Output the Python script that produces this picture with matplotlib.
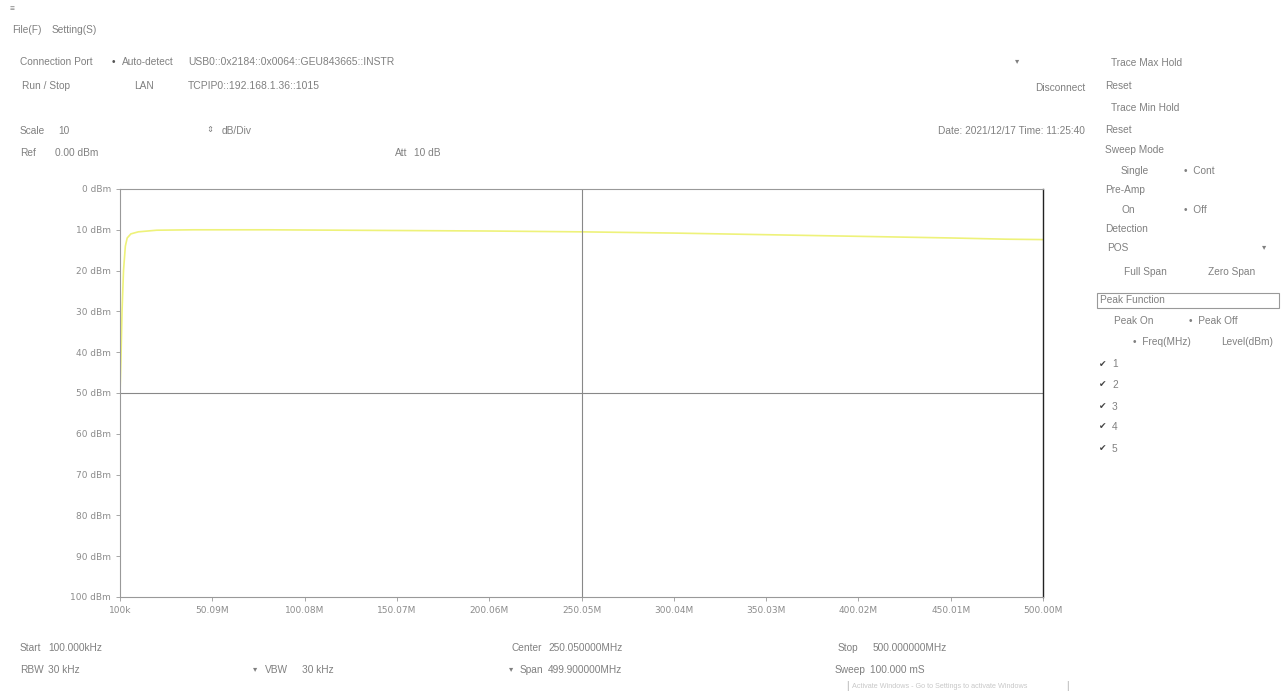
import matplotlib.pyplot as plt
import numpy as np

# trace data (frequency in MHz, level in dBm)
freq_mhz = [0.1, 0.6, 1.2, 2.0, 3.0, 4.0, 6.0, 10.0, 20.0, 40.0, 80.0, 120.0,
            160.0, 200.0, 250.0, 300.0, 350.0, 400.0, 450.0, 480.0, 500.0]
level_dbm = [-50.0, -42.0, -30.0, -20.0, -14.0, -12.0, -11.0, -10.5, -10.1, -10.0, -10.0, -10.1,
             -10.2, -10.3, -10.5, -10.8, -11.2, -11.6, -12.0, -12.3, -12.4]

x_ticks = [0.1, 50.09, 100.08, 150.07, 200.06, 250.05, 300.04, 350.03, 400.02, 450.01, 500.0]
x_labels = ['100k', '50.09M', '100.08M', '150.07M', '200.06M', '250.05M',
            '300.04M', '350.03M', '400.02M', '450.01M', '500.00M']
y_ticks = [0, -10, -20, -30, -40, -50, -60, -70, -80, -90, -100]
y_labels = ['%d dBm' % abs(v) for v in y_ticks]

W, H = 1284, 694
fig = plt.figure(figsize=(W / 100, H / 100), dpi=100)
fig.patch.set_facecolor('white')

ax = fig.add_axes([120 / W, 1 - 597 / H, (1043 - 120) / W, (597 - 189) / H])
ax.plot(freq_mhz, level_dbm, color='#eef27a', lw=1.2)
ax.axvline(250.05, color='#888888', lw=0.8)
ax.axhline(-50, color='#888888', lw=0.8)
ax.set_xlim(0.1, 500.0)
ax.set_ylim(-100, 0)
ax.set_xticks(x_ticks)
ax.set_xticklabels(x_labels)
ax.set_yticks(y_ticks)
ax.set_yticklabels(y_labels)
ax.tick_params(labelsize=6.5, colors='#999999', labelcolor='#8c8c8c', length=3, width=0.6)
for s in ['left', 'bottom', 'top']:
    ax.spines[s].set_color('#999999')
    ax.spines[s].set_linewidth(0.8)
ax.spines['right'].set_color('#222222')
ax.spines['right'].set_linewidth(1.0)

GRAY = '#808080'


def txt(x, y, s, size=7.3, color=GRAY, ha='left', **kw):
    fig.text(x / W, 1 - y / H, s, fontsize=size, color=color, ha=ha, va='center',
             family=['Liberation Sans', 'DejaVu Sans'], **kw)


# menu + connection
txt(10, 10, '≡', size=6)
txt(12, 30, 'File(F)')
txt(52, 30, 'Setting(S)')
txt(20, 62, 'Connection Port')
txt(112, 62, '•', color='#555555')
txt(122, 62, 'Auto-detect')
txt(188, 62, 'USB0::0x2184::0x0064::GEU843665::INSTR', size=7.5)
txt(22, 86, 'Run / Stop')
txt(134, 86, 'LAN')
txt(188, 86, 'TCPIP0::192.168.1.36::1015', size=7.5)
txt(1015, 62, '▾', size=6)
txt(1085, 88, 'Disconnect', ha='right')

# scale / ref
txt(20, 131, 'Scale')
txt(58, 131, '10')
txt(206, 131, '⇕', size=6)
txt(222, 131, 'dB/Div')
txt(20, 153, 'Ref')
txt(55, 153, '0.00 dBm')
txt(395, 153, 'Att')
txt(414, 153, '10 dB')
txt(1085, 131, 'Date: 2021/12/17 Time: 11:25:40', ha='right')

# right panel
txt(1111, 63, 'Trace Max Hold')
txt(1105, 86, 'Reset')
txt(1111, 108, 'Trace Min Hold')
txt(1105, 130, 'Reset')
txt(1105, 150, 'Sweep Mode')
txt(1121, 171, 'Single')
txt(1184, 171, '•  Cont')
txt(1105, 190, 'Pre-Amp')
txt(1121, 210, 'On')
txt(1184, 210, '•  Off')
txt(1105, 229, 'Detection')
txt(1107, 248, 'POS')
txt(1262, 248, '▾', size=6)
txt(1124, 272, 'Full Span')
txt(1208, 272, 'Zero Span')
fig.patches.append(plt.Rectangle((1097 / W, 1 - 308 / H), 182 / W, 15 / H,
                                 transform=fig.transFigure, fill=False,
                                 edgecolor='#999999', lw=0.8))
txt(1100, 300, 'Peak Function')
txt(1114, 321, 'Peak On')
txt(1189, 321, '•  Peak Off')
txt(1133, 342, '•  Freq(MHz)')
txt(1221, 342, 'Level(dBm)')
for i, yy in enumerate([364, 385, 407, 427, 449]):
    txt(1099, yy, '✔', size=6.5, color='#444444')
    txt(1112, yy, str(i + 1))

# bottom
txt(20, 648, 'Start')
txt(48, 648, '100.000kHz')
txt(20, 670, 'RBW')
txt(48, 670, '30 kHz')
txt(253, 670, '▾', size=6)
txt(265, 670, 'VBW')
txt(302, 670, '30 kHz')
txt(512, 648, 'Center')
txt(548, 648, '250.050000MHz')
txt(509, 670, '▾', size=6)
txt(520, 670, 'Span')
txt(548, 670, '499.900000MHz')
txt(838, 648, 'Stop')
txt(873, 648, '500.000000MHz')
txt(835, 670, 'Sweep')
txt(870, 670, '100.000 mS')
txt(846, 686, '|', size=7, color='#aaaaaa')
txt(852, 686, 'Activate Windows - Go to Settings to activate Windows', size=5.2, color='#c8c8c8')
txt(1066, 686, '|', size=7, color='#aaaaaa')

fig.savefig('out.png', dpi=100, facecolor='white')
